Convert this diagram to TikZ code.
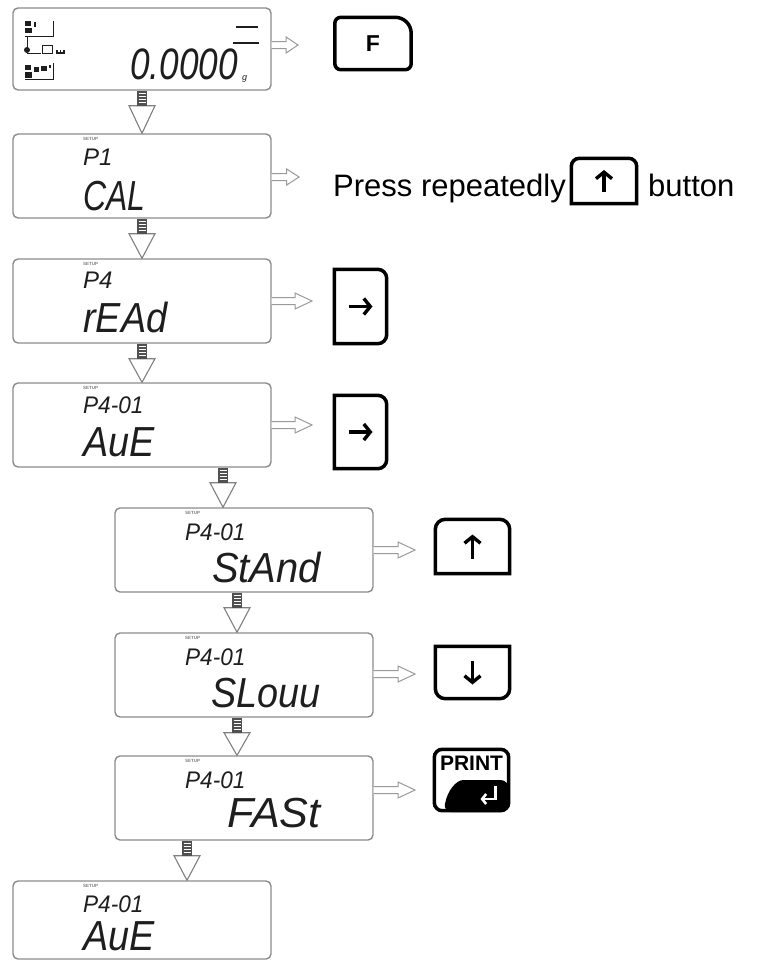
\documentclass[tikz,border=0pt]{standalone}
\usepackage{fontspec}
\setmainfont{Liberation Sans}
\newfontfamily\lcdfont{Liberation Sans}
\usetikzlibrary{calc,arrows.meta}
\definecolor{lcdgray}{HTML}{8C8C8C}
\definecolor{arrowgray}{HTML}{9A9A9A}
\definecolor{lcdtext}{HTML}{1E1E1E}
\definecolor{laddergray}{HTML}{505050}
\tikzset{
  lcdbox/.style={draw=lcdgray, line width=1.4pt, rounded corners=5pt, minimum width=258pt, minimum height=84pt, inner sep=0pt},
  btnbox/.style={inner sep=0pt, font=\bfseries\fontsize{23}{23}\selectfont},
  btnline/.style={draw=black, line width=3.5pt},
  harrow/.style={draw=arrowgray, line width=1pt, fill=white},
  headstyle/.style={draw=gray, line width=1.1pt, fill=white},
  lcdbig/.style={font=\lcdfont\itshape\fontsize{42}{42}\selectfont, inner sep=0pt, text=lcdtext, anchor=base west},
  lcdsmall/.style={font=\lcdfont\itshape\fontsize{24}{24}\selectfont, inner sep=0pt, text=lcdtext, anchor=base west},
  setuplbl/.style={font=\bfseries\fontsize{4.5}{4.5}\selectfont, inner sep=0pt, anchor=north west, text=gray},
  keyarrow/.style={draw=black, line width=3.4pt, -{Straight Barb[length=6.5pt,width=16pt]}},
  plaintext/.style={font=\fontsize{31}{31}\selectfont, inner sep=0pt, anchor=base west}
}
\newcommand\hright[2]{%
  \draw[harrow] let \p1=(#1), \p2=(#2), \n1={\x2-\x1}, \n2={min(17,0.45*\n1)} in
    (\x1,\y2+3.5pt) -- (\x2-\n2,\y2+3.5pt) -- (\x2-\n2,\y2+8pt) -- (\x2,\y2)
    -- (\x2-\n2,\y2-8pt) -- (\x2-\n2,\y2-3.5pt) -- (\x1,\y2-3.5pt);}
\newcommand\hdown[2]{%
  \draw[headstyle] let \p1=(#1), \p2=(#2) in
    (\x1-13pt,\y1-15pt) -- (\x1+13pt,\y1-15pt) -- (\x1,\y2) -- cycle;
  \fill[laddergray] let \p1=(#1) in (\x1-5pt,\y1) rectangle (\x1+5pt,\y1-15.5pt);
  \draw[white, line width=0.9pt] let \p1=(#1) in
    (\x1-3.5pt,\y1-3pt) -- (\x1+3.5pt,\y1-3pt)
    (\x1-3.5pt,\y1-6pt) -- (\x1+3.5pt,\y1-6pt)
    (\x1-3.5pt,\y1-9pt) -- (\x1+3.5pt,\y1-9pt)
    (\x1-3.5pt,\y1-12pt) -- (\x1+3.5pt,\y1-12pt);}
\begin{document}
\begin{tikzpicture}[x=1pt,y=-1pt]
\useasboundingbox (0,0) rectangle (771,961);
\fill[white] (0,0) rectangle (771,961);

% ---------- displays ----------
\node[lcdbox, minimum height=82pt] (d1) at (142,49) {};
\node[lcdbox] (d2) at (142,176) {};
\node[lcdbox] (d3) at (142,301) {};
\node[lcdbox] (d4) at (142,425) {};
\node[lcdbox] (d5) at (244,550) {};
\node[lcdbox] (d6) at (244,675) {};
\node[lcdbox] (d7) at (244,798) {};
\node[lcdbox, minimum height=78pt] (d8) at (142,920) {};

% display 1 contents
\node[lcdbig, font=\lcdfont\itshape\fontsize{44}{44}\selectfont] (t1) at (130,79) {\scalebox{0.8}[1]{0.0000}};
\node[lcdsmall, font=\lcdfont\itshape\fontsize{9}{9}\selectfont] (g1) at (242,80) {g};
\draw[lcdtext, line width=1.6pt] (236,27) -- (258,27);
\draw[lcdtext, line width=2.6pt] (233,43) -- (259,43);
\begin{scope}[lcdtext, line width=1pt]
  \fill (25,21) rectangle (31,26);
  \fill (25,27.5) rectangle (32,33);
  \fill (34,22) rectangle (35.5,27);
  \draw (53,21) -- (53,36) -- (25,36);
  \draw (27,36) -- (27,50);
  \fill (27,50) circle (3);
  \draw (27,53.5) -- (41,53.5);
  \draw (42,45) rectangle (52,53.5);
  \draw[line width=1.2pt] (57,50) -- (57,53) -- (64,53) -- (64,50) (60.5,50) -- (60.5,53);
  \fill (25,65) rectangle (31,70);
  \fill (25,72) rectangle (32,78);
  \fill (34,67) rectangle (39,72);
  \fill (41,66) rectangle (47,71);
  \fill (49,65) rectangle (50.5,68);
  \draw (53,63) -- (53,79) -- (25,79);
\end{scope}

% display 2
\node[setuplbl] (s2) at (83,137) {SETUP};
\node[lcdsmall] (p2) at (83,165) {P1};
\node[lcdbig] (c2) at (83,210) {\scalebox{0.76}[1]{CAL}};
% display 3
\node[setuplbl] (s3) at (83,262) {SETUP};
\node[lcdsmall] (p3) at (83,288) {P4};
\node[lcdbig] (c3) at (83,332) {\scalebox{0.9}[1]{rEAd}};
% display 4
\node[setuplbl] (s4) at (83,386) {SETUP};
\node[lcdsmall] (p4) at (83,413) {\scalebox{0.94}[1]{P4-01}};
\node[lcdbig] (c4) at (83,456) {\scalebox{0.9}[1]{AuE}};
% display 5
\node[setuplbl] (s5) at (185,511) {SETUP};
\node[lcdsmall] (p5) at (185,540) {\scalebox{0.94}[1]{P4-01}};
\node[lcdbig, anchor=base east] (c5) at (321,582) {\scalebox{0.95}[1]{StAnd}};
% display 6
\node[setuplbl] (s6) at (185,636) {SETUP};
\node[lcdsmall] (p6) at (185,665) {\scalebox{0.94}[1]{P4-01}};
\node[lcdbig, anchor=base east] (c6) at (321,707) {\scalebox{0.9}[1]{SLouu}};
% display 7
\node[setuplbl] (s7) at (185,759) {SETUP};
\node[lcdsmall] (p7) at (185,788) {\scalebox{0.94}[1]{P4-01}};
\node[lcdbig, anchor=base east] (c7) at (321,827) {\scalebox{1.03}[1]{FASt}};
% display 8
\node[setuplbl] (s8) at (83,884) {SETUP};
\node[lcdsmall] (p8) at (83,912) {\scalebox{0.94}[1]{P4-01}};
\node[lcdbig] (c8) at (83,950) {\scalebox{0.9}[1]{AuE}};

% ---------- down arrows ----------
\coordinate (x12) at (142,0);
\coordinate (x45) at (223,0);
\coordinate (x56) at (237,0);
\coordinate (x78) at (187,0);
\hdown{d1.south -| x12}{d2.north -| x12}
\hdown{d2.south -| x12}{d3.north -| x12}
\hdown{d3.south -| x12}{d4.north -| x12}
\hdown{d4.south -| x45}{d5.north -| x45}
\hdown{d5.south -| x56}{d6.north -| x56}
\hdown{d6.south -| x56}{d7.north -| x56}
\hdown{d7.south -| x78}{d8.north -| x78}

% ---------- right arrows ----------
\coordinate (e1) at (298,45);
\coordinate (e2) at (299,177);
\coordinate (e3) at (312,301);
\coordinate (e4) at (312,425);
\coordinate (e5) at (415,550);
\coordinate (e6) at (415,674);
\coordinate (e7) at (415,790);
\hright{d1.east |- e1}{e1}
\hright{d2.east |- e2}{e2}
\hright{d3.east |- e3}{e3}
\hright{d4.east |- e4}{e4}
\hright{d5.east |- e5}{e5}
\hright{d6.east |- e6}{e6}
\hright{d7.east |- e7}{e7}

% ---------- buttons ----------
% F
\node[btnbox, minimum width=76pt, minimum height=52pt] (bF) at (373,43.5) {F};
\draw[btnline] (bF.west) [rounded corners=6pt] -- (bF.north west) [rounded corners=16pt] -- (bF.north east) [rounded corners=6pt] -- (bF.south east) -- (bF.south west) -- cycle;

% press repeatedly row
\node[plaintext] (pr) at (333,196) {Press repeatedly};
\node[btnbox, minimum width=65pt, minimum height=45pt] (bU0) at (604,181) {};
\draw[btnline] (bU0.south) [sharp corners] -- (bU0.south west) [rounded corners=8pt] -- (bU0.north west) -- (bU0.north east) [sharp corners] -- (bU0.south east) -- cycle;
\draw[keyarrow] ($(bU0.center)+(0,11)$) -- ($(bU0.center)+(0,-11)$);
\node[plaintext] (bt) at (648,196) {button};

% right key 1
\node[btnbox, minimum width=52pt, minimum height=74pt] (bR1) at (360.5,306.5) {};
\draw[btnline] (bR1.west) [sharp corners] -- (bR1.north west) [rounded corners=9pt] -- (bR1.north east) -- (bR1.south east) [sharp corners] -- (bR1.south west) -- cycle;
\draw[keyarrow] ($(bR1.center)+(-12,0)$) -- ($(bR1.center)+(12,0)$);

% right key 2
\node[btnbox, minimum width=52pt, minimum height=73pt] (bR2) at (360.5,432) {};
\draw[btnline] (bR2.west) [sharp corners] -- (bR2.north west) [rounded corners=9pt] -- (bR2.north east) -- (bR2.south east) [sharp corners] -- (bR2.south west) -- cycle;
\draw[keyarrow] ($(bR2.center)+(-12,0)$) -- ($(bR2.center)+(12,0)$);

% up key
\node[btnbox, minimum width=74pt, minimum height=54pt] (bUp) at (472.5,546.5) {};
\draw[btnline] (bUp.south) [sharp corners] -- (bUp.south west) [rounded corners=10pt] -- (bUp.north west) -- (bUp.north east) [sharp corners] -- (bUp.south east) -- cycle;
\draw[keyarrow] ($(bUp.center)+(0,12)$) -- ($(bUp.center)+(0,-12)$);

% down key
\node[btnbox, minimum width=74pt, minimum height=52pt] (bDn) at (472.5,672.5) {};
\draw[btnline] (bDn.north) [sharp corners] -- (bDn.north east) [rounded corners=10pt] -- (bDn.south east) -- (bDn.south west) [sharp corners] -- (bDn.north west) -- cycle;
\draw[keyarrow] ($(bDn.center)+(0,-12)$) -- ($(bDn.center)+(0,12)$);

% print key
\node[btnbox, minimum width=74pt, minimum height=61pt] (bPr) at (471.5,780) {};
\begin{scope}[shift={(bPr.center)}]
  \fill[black, rounded corners=8pt] (-28,32) .. controls (-24,10) and (-15,0) .. (0,0) -- (37,0) -- (37,32) -- cycle;
  \draw[white, line width=2.6pt, -{Straight Barb[length=4pt,width=10pt]}] (24,6) -- (24,19) -- (9,19);
\end{scope}
\draw[btnline, rounded corners=8pt] (bPr.south west) rectangle (bPr.north east);
\node[inner sep=0pt, font=\bfseries\fontsize{21}{21}\selectfont] (pl) at ($(bPr.north)+(0,14)$) {PRINT};
\end{tikzpicture}
\end{document}
